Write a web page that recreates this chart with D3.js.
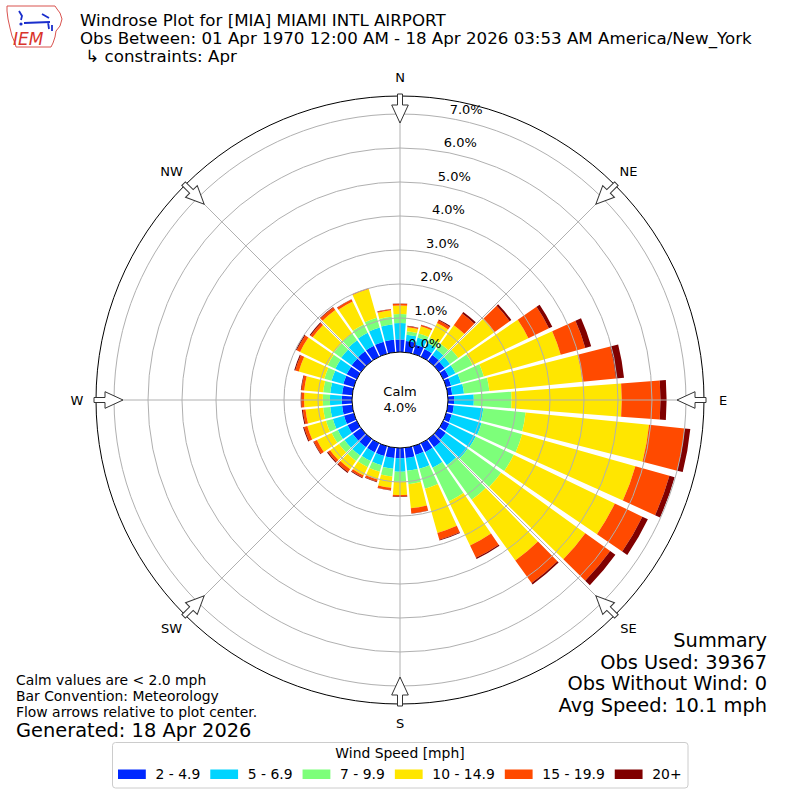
<!DOCTYPE html>
<html>
<head>
<meta charset="utf-8">
<script src="https://cdn.jsdelivr.net/npm/d3@7"></script>
<style>
  body { margin: 0; background: #fff; }
  text { font-family: "DejaVu Sans", sans-serif; fill: #000; }
</style>
</head>
<body>
<div id="chart"></div>
<script>
// ---- data (percent of obs, per direction bin, per speed bin) ----
const directions = [0, 10, 20, 30, 40, 50, 60, 70, 80, 90, 100, 110,
                    120, 130, 140, 150, 160, 170, 180, 190, 200, 210, 220, 230,
                    240, 250, 260, 270, 280, 290, 300, 310, 320, 330, 340, 350];
const speedBins = ["2 - 4.9", "5 - 6.9", "7 - 9.9", "10 - 14.9", "15 - 19.9", "20+"];
const binColors = ["#0028ff", "#00d4ff", "#7dff7a", "#ffe600", "#ff4a00", "#800000"];

const spd2to5   = [.37,.33,.28,.25,.22,.20,.18,.15,.13,.18,.18,.17,.20,.25,.30,.29,.27,.30,
                   .30,.30,.30,.30,.30,.30,.30,.30,.30,.30,.30,.32,.33,.34,.35,.36,.37,.37];
const spd5to7   = [.48,.19,.22,.20,.20,.20,.22,.30,.35,.58,.87,.91,.86,.79,.65,.51,.42,.38,
                   .40,.32,.28,.28,.30,.30,.32,.34,.35,.35,.35,.36,.37,.38,.40,.42,.43,.45];
const spd7to10  = [.27,.10,.12,.17,.21,.30,.56,.70,.75,1.11,1.25,1.24,1.24,1.21,1.25,1.10,.61,.40,
                   .29,.23,.20,.20,.20,.20,.20,.21,.21,.21,.21,.22,.25,.26,.25,.27,.30,.23];
const spd10to15 = [.25,.12,.22,.48,.67,1.32,1.82,2.35,2.75,3.24,3.65,3.46,3.30,3.05,2.20,1.44,1.35,.71,
                   .39,.33,.24,.27,.30,.32,.48,.57,.52,.55,.56,.78,.90,.77,.85,.75,.88,.19];
const spd15to20 = [.05,.03,.04,.09,.42,.54,.67,.75,.99,1.14,1.05,1.04,.90,.90,.82,.40,.21,.15,
                   .05,.07,.06,.07,.10,.08,.10,.10,.08,.08,.08,.11,.11,.08,.09,.07,.02,.03];
const spd20up   = [.01,.01,.01,.03,.06,.06,.11,.18,.24,.18,.17,.16,.18,.19,.05,.04,.02,.01,
                   .01,.01,.02,.02,.03,.03,.02,.03,.03,.02,.02,.03,.03,.03,.02,.01,.00,.01];

const radialTicks = [0, 1, 2, 3, 4, 5, 6, 7];
const compass = [["N", 0], ["NE", 45], ["E", 90], ["SE", 135],
                 ["S", 180], ["SW", 225], ["W", 270], ["NW", 315]];

const titleLines = ["Windrose Plot for [MIA] MIAMI INTL AIRPORT",
                    "Obs Between: 01 Apr 1970 12:00 AM - 18 Apr 2026 03:53 AM America/New_York",
                    " \u21b3 constraints: Apr"];
const noteLines = ["Calm values are < 2.0 mph", "Bar Convention: Meteorology",
                   "Flow arrows relative to plot center."];
const summaryLines = ["Summary", "Obs Used: 39367", "Obs Without Wind: 0", "Avg Speed: 10.1 mph"];
const calmPct = "4.0%";

// ---- setup ----
const width = 800, height = 800;
const cx = 400, cy = 400;
const rCalm = 48, rOuter = 304;
const barHalf = 4.3; // degrees

const svg = d3.select("#chart")
    .append("svg")
    .attr("width", width)
    .attr("height", height);

const rad = (deg) => deg * Math.PI / 180;

const r = d3.scaleLinear()
    .domain([0, 7.53])
    .range([rCalm, rOuter]);

// table for the stack
const series = [spd2to5, spd5to7, spd7to10, spd10to15, spd15to20, spd20up];
const table = directions.map((d, i) => {
    const row = { dir: d };
    speedBins.forEach((b, j) => { row[b] = series[j][i]; });
    return row;
});
const stacked = d3.stack().keys(speedBins)(table);

const plot = svg.append("g").attr("transform", `translate(${cx},${cy})`);

// bars
const arc = d3.arc()
    .innerRadius((d) => r(d[0]))
    .outerRadius((d) => r(d[1]))
    .startAngle((d) => rad(d.data.dir - barHalf))
    .endAngle((d) => rad(d.data.dir + barHalf));

plot.append("g")
    .selectAll("g")
    .data(stacked)
    .join("g")
    .attr("fill", (d, i) => binColors[i])
    .selectAll("path")
    .data((d) => d)
    .join("path")
    .attr("d", arc);

// grid rings and spokes
plot.append("g")
    .selectAll("circle")
    .data(radialTicks.slice(1))
    .join("circle")
    .attr("r", (d) => r(d))
    .attr("fill", "none")
    .attr("stroke", "#b0b0b0")
    .attr("stroke-width", 1);

plot.append("g")
    .selectAll("line")
    .data(compass)
    .join("line")
    .attr("x1", 0).attr("y1", 0)
    .attr("x2", (d) => rOuter * Math.sin(rad(d[1])))
    .attr("y2", (d) => -rOuter * Math.cos(rad(d[1])))
    .attr("stroke", "#b0b0b0")
    .attr("stroke-width", 1);

// outer frame
plot.append("circle")
    .attr("r", rOuter)
    .attr("fill", "none")
    .attr("stroke", "#000")
    .attr("stroke-width", 1);

// calm circle
plot.append("circle")
    .attr("r", rCalm)
    .attr("fill", "#fff")
    .attr("stroke", "#000")
    .attr("stroke-width", 1);

plot.append("text")
    .attr("text-anchor", "middle")
    .attr("y", -4)
    .attr("font-size", "13px")
    .text("Calm");
plot.append("text")
    .attr("text-anchor", "middle")
    .attr("y", 12)
    .attr("font-size", "13px")
    .text(calmPct);

// radial tick labels
plot.append("g")
    .selectAll("text")
    .data(radialTicks)
    .join("text")
    .attr("x", (d) => r(d) * Math.sin(rad(10)))
    .attr("y", (d) => -r(d) * Math.cos(rad(10)) - 4.5)
    .attr("font-size", "13px")
    .text((d) => d.toFixed(1) + "%");

// compass labels
plot.append("g")
    .selectAll("text")
    .data(compass)
    .join("text")
    .attr("x", (d) => 323 * Math.sin(rad(d[1])))
    .attr("y", (d) => -323 * Math.cos(rad(d[1])))
    .attr("text-anchor", "middle")
    .attr("dominant-baseline", "central")
    .attr("font-size", "13px")
    .text((d) => d[0]);

// flow arrows pointing at the center
const arrowPath = "M-2.5,-29L2.5,-29L2.5,-18L8.3,-18L0,0L-8.3,-18L-2.5,-18Z";
plot.append("g")
    .selectAll("path")
    .data(compass)
    .join("path")
    .attr("d", arrowPath)
    .attr("transform", (d) => `rotate(${d[1]}) translate(0,${-277})`)
    .attr("fill", "#fff")
    .attr("stroke", "#333")
    .attr("stroke-width", 1);

// ---- titles ----
svg.append("g")
    .selectAll("text")
    .data(titleLines)
    .join("text")
    .attr("x", 80)
    .attr("y", (d, i) => 26 + i * 18)
    .attr("font-size", "16.67px")
    .attr("xml:space", "preserve")
    .style("white-space", "pre")
    .text((d) => d);

// notes bottom left
svg.append("g")
    .selectAll("text")
    .data(noteLines)
    .join("text")
    .attr("x", 16)
    .attr("y", (d, i) => 685 + i * 15.8)
    .attr("font-size", "13.9px")
    .text((d) => d);

svg.append("text")
    .attr("x", 16)
    .attr("y", 737)
    .attr("font-size", "19.4px")
    .text("Generated: 18 Apr 2026");

// summary bottom right
svg.append("g")
    .selectAll("text")
    .data(summaryLines)
    .join("text")
    .attr("x", 767)
    .attr("y", (d, i) => 647 + i * 21.5)
    .attr("text-anchor", "end")
    .attr("font-size", "19.4px")
    .text((d) => d);

// ---- legend ----
const legend = svg.append("g");
legend.append("rect")
    .attr("x", 112.5).attr("y", 742.5)
    .attr("width", 575.5).attr("height", 45.5)
    .attr("rx", 3)
    .attr("fill", "#fff")
    .attr("stroke", "#cccccc")
    .attr("stroke-width", 1);
legend.append("text")
    .attr("x", 400)
    .attr("y", 758)
    .attr("text-anchor", "middle")
    .attr("font-size", "13.9px")
    .text("Wind Speed [mph]");

let lx = 118;
speedBins.forEach((b, i) => {
    legend.append("rect")
        .attr("x", lx).attr("y", 769.5)
        .attr("width", 27.8).attr("height", 9.5)
        .attr("fill", binColors[i]);
    const t = legend.append("text")
        .attr("x", lx + 37.5)
        .attr("y", 779)
        .attr("font-size", "13.9px")
        .text(b);
    lx += 37.5 + t.node().getComputedTextLength() + 10;
});

// ---- IEM logo ----
const logo = svg.append("g");
logo.append("path")
    .attr("d", "M7,6L55,6L57,9L60,13L62,19L60,26L56,31L55,37L53,43L51,47L16,47L15,43L12,36L10,28L8,19L7,11Z")
    .attr("fill", "none")
    .attr("stroke", "#d9534f")
    .attr("stroke-width", 1);
logo.append("path")
    .attr("d", "M24,23L50,22M19,11L22,16L21,20M42,14L49,18M48,22L49,29M52,25L52,31")
    .attr("fill", "none")
    .attr("stroke", "#1a2ecc")
    .attr("stroke-width", 1.8);
logo.append("circle").attr("cx", 21).attr("cy", 24).attr("r", 1.6).attr("fill", "#1a2ecc");
logo.append("text")
    .attr("x", 13)
    .attr("y", 45)
    .attr("font-family", "Liberation Serif, serif")
    .attr("font-style", "italic")
    .attr("font-size", "17px")
    .style("fill", "#d9342b")
    .text("IEM");
</script>
</body>
</html>
